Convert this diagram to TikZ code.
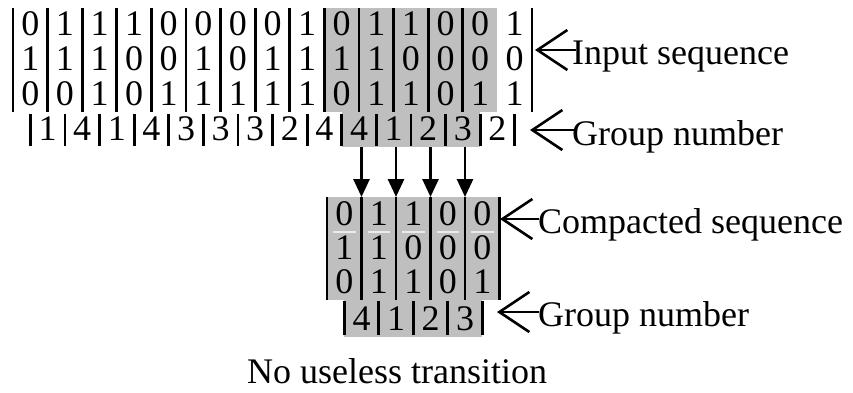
\documentclass[tikz,border=0pt]{standalone}
\usepackage{fontspec}
\setmainfont{Liberation Serif}
\usetikzlibrary{arrows.meta}

\tikzset{
  bar/.style={line width=2.8pt},
  shade/.style={fill=black!25},
  sepline/.style={draw=black!8, line width=1.5pt},
  digit/.style={inner sep=0pt},
  lbl/.style={anchor=base west, inner sep=0pt},
  pointer/.style={line width=2.6pt, -{Straight Barb[length=30pt,width=40pt,line width=2.6pt]}},
  down/.style={line width=2.7pt, -{Triangle[length=18pt,width=16pt]}},
}

\begin{document}
\begin{tikzpicture}[x=1pt, y=-1pt, font=\fontsize{36}{40}\selectfont]
\useasboundingbox (0,0) rectangle (853,392);

% ---- input sequence (15 columns) ----
\fill[shade] ({13+34.6*9},8) rectangle ({13+34.6*14},112);
\fill[shade] ({13+34.6*9.5},112) rectangle ({13+34.6*13.5},147);

\foreach \k in {0,...,13,15}
  \draw[bar] ({13+34.6*\k},8) -- ({13+34.6*\k},112);

\foreach [count=\c from 0] \v in {0,1,1,1,0,0,0,0,1,0,1,1,0,0,1}
  \node[digit] (ta\c) at ({13+34.6*(\c+0.5)},24) {\v};
\foreach [count=\c from 0] \v in {1,1,1,0,0,1,0,1,1,1,1,0,0,0,0}
  \node[digit] (tb\c) at ({13+34.6*(\c+0.5)},59) {\v};
\foreach [count=\c from 0] \v in {0,0,1,0,1,1,1,1,1,0,1,1,0,1,1}
  \node[digit] (tc\c) at ({13+34.6*(\c+0.5)},94) {\v};

% group numbers between neighbouring columns
\foreach \j in {0,...,14}
  \draw[bar] ({13+34.6*(\j+0.5)},114) -- ({13+34.6*(\j+0.5)},146);
\foreach [count=\j from 0] \v in {1,4,1,4,3,3,3,2,4,4,1,2,3,2}
  \node[digit] (g\j) at ({13+34.6*(\j+1)},129) {\v};

\coordinate (gbot) at (0,147);

% ---- compacted sequence (5 columns) ----
\fill[shade] (327,197) rectangle ({327+34.5*5},300);
\fill[shade] ({327+34.5*0.5},300) rectangle ({327+34.5*4.5},337);

\foreach \i in {0,...,4}
  \draw[sepline] ({327+34.5*\i+6},232) -- ({327+34.5*(\i+1)-6},232);
\foreach \i in {0,...,5}
  \draw[bar] ({327+34.5*\i},197) -- ({327+34.5*\i},300);

\foreach [count=\c from 0] \v in {0,1,1,0,0}
  \node[digit] (ka\c) at ({327+34.5*(\c+0.5)},214) {\v};
\foreach [count=\c from 0] \v in {1,1,0,0,0}
  \node[digit] (kb\c) at ({327+34.5*(\c+0.5)},248) {\v};
\foreach [count=\c from 0] \v in {0,1,1,0,1}
  \node[digit] (kc\c) at ({327+34.5*(\c+0.5)},282) {\v};

\foreach \i in {0,...,4}
  \draw[bar] ({327+34.5*(\i+0.5)},301) -- ({327+34.5*(\i+0.5)},335);
\foreach [count=\c from 0] \v in {4,1,2,3}
  \node[digit] (kg\c) at ({327+34.5*(\c+1)},319) {\v};

% arrows from the selected group cells to the compacted columns
\foreach \i in {1,...,4}
  \coordinate (d\i) at ({327+34.5*\i},197);
\foreach \i in {1,...,4}
  \draw[down] (d\i |- gbot) -- (d\i);

% ---- labels ----
\coordinate (tipIn) at (535,50);
\coordinate (tipGa) at (530,130);
\coordinate (tipCp) at (500,219);
\coordinate (tipGb) at (497,312);

\node[lbl] (inlbl) at (572,64) {Input sequence};
\node[lbl] (galbl) at (572,145) {Group number};
\node[lbl] (cplbl) at (538,233) {Compacted sequence};
\node[lbl] (gblbl) at (538,326) {Group number};
\node[lbl] (note) at (247,383) {No useless transition};

\draw[pointer] ([xshift=4pt]inlbl.west |- tipIn) -- (tipIn);
\draw[pointer] ([xshift=4pt]galbl.west |- tipGa) -- (tipGa);
\draw[pointer] ([xshift=1pt]cplbl.west |- tipCp) -- (tipCp);
\draw[pointer] ([xshift=1pt]gblbl.west |- tipGb) -- (tipGb);
\end{tikzpicture}
\end{document}
